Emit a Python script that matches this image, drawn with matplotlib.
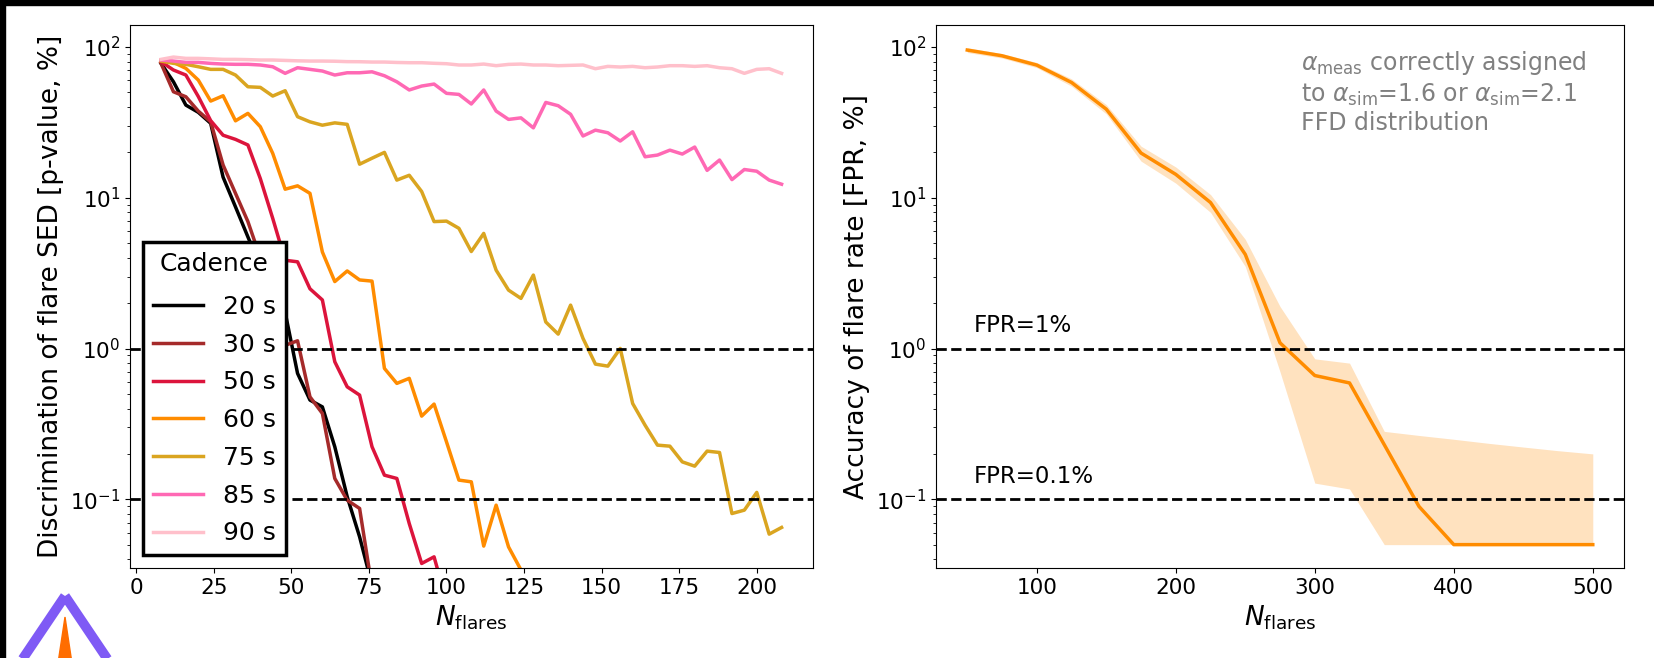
import numpy as np
import matplotlib
matplotlib.use('Agg')
import matplotlib.pyplot as plt
from matplotlib.patches import Rectangle, Polygon

nan = np.nan

# number of flares per simulated light curve (left panel)
nFlares = [8, 12, 16, 20, 24, 28, 32, 36, 40, 44, 48, 52, 56, 60, 64, 68, 72, 76, 80, 84,
           88, 92, 96, 100, 104, 108, 112, 116, 120, 124, 128, 132, 136, 140, 144, 148, 152,
           156, 160, 164, 168, 172, 176, 180, 184, 188, 192, 196, 200, 204, 208]

cadences = ['20 s', '30 s', '50 s', '60 s', '75 s', '85 s', '90 s']
cadenceColors = ['black', 'brown', 'crimson', 'darkorange', 'goldenrod', 'hotpink', 'pink']

# p-values in percent, one list per cadence (nan = below zero / not computed)
pval20 = [77.9, 58.8, 41.2, 36.9, 31.2, 13.7, 8.7, 5.5, 3.5, 2.4, 1.74, 0.684, 0.455, 0.410,
          0.223, 0.104, 0.0563, 0.027] + [nan] * 33
pval30 = [77.9, 50.5, 46.8, 37.6, 31.9, 16.5, 10.7, 6.95, 4.0, 2.0, 1.05, 1.125, 0.478, 0.371,
          0.1374, 0.0986, 0.0869, 0.026] + [nan] * 33
pval50 = [79.9, 70.4, 65.2, 47.0, 32.5, 26.0, 24.4, 22.4, 13.4, 7.3, 3.85, 3.76, 2.49, 2.10,
          0.817, 0.557, 0.491, 0.223, 0.1445, 0.1374, 0.069, 0.0375, 0.0415, 0.021] + [nan] * 27
pval60 = [82.0, 79.1, 72.2, 60.4, 43.8, 47.5, 32.4, 36.3, 29.6, 19.7, 11.4, 12.0, 10.7, 4.37,
          2.78, 3.27, 2.85, 2.80, 0.738, 0.587, 0.634, 0.356, 0.428, 0.2404, 0.134, 0.1305,
          0.0489, 0.0914, 0.0483, 0.034] + [nan] * 21
pval75 = [80.7, 77.9, 76.8, 74.0, 71.1, 71.1, 65.2, 54.5, 54.0, 47.3, 51.3, 34.5, 31.9, 30.3,
          31.4, 30.7, 16.7, 18.3, 20.0, 13.1, 14.1, 11.0, 6.95, 7.0, 6.27, 4.4, 5.80, 3.31, 2.44,
          2.15, 3.07, 1.50, 1.246, 1.94, 1.167, 0.788, 0.764, 1.001, 0.432, 0.310, 0.2286, 0.225,
          0.177, 0.1658, 0.2086, 0.2043, 0.0804, 0.0847, 0.111, 0.0587, 0.065]
pval85 = [82.0, 80.7, 79.1, 79.1, 77.9, 77.1, 76.8, 76.8, 76.0, 74.0, 66.9, 72.9, 71.1, 69.3,
          65.2, 67.5, 67.5, 68.5, 64.5, 58.8, 51.9, 55.1, 56.8, 49.3, 48.5, 41.9, 51.9, 37.6,
          33.1, 33.9, 29.1, 42.9, 40.8, 35.8, 25.7, 28.1, 27.0, 23.8, 27.4, 18.7, 19.2, 20.7,
          19.5, 21.7, 15.2, 17.8, 13.2, 15.4, 15.0, 13.1, 12.3]
pval90 = [82.8, 85.8, 84.1, 84.1, 83.5, 82.8, 82.8, 82.5, 82.0, 82.0, 81.5, 81.0, 80.7, 80.7,
          80.5, 80.0, 79.9, 79.5, 79.5, 79.0, 78.7, 78.7, 78.0, 77.5, 76.0, 76.0, 77.1, 75.2,
          76.7, 77.1, 76.0, 76.0, 75.2, 75.6, 76.0, 71.8, 74.4, 73.7, 74.4, 72.9, 73.7, 75.2,
          75.2, 74.4, 75.2, 72.9, 71.8, 66.9, 71.1, 71.8, 66.9]
pvals = [pval20, pval30, pval50, pval60, pval75, pval85, pval90]

# false positive rate vs number of flares (right panel)
nFlaresFpr = [50, 75, 100, 125, 150, 175, 200, 225, 250, 275, 300, 325, 350, 375, 400, 425,
              450, 475, 500]
fprMean = [95.5, 87.5, 75.9, 58.2, 38.7, 19.8, 14.3, 9.3, 4.21, 1.09, 0.662, 0.591, 0.23,
           0.0895, 0.05, 0.05, 0.05, 0.05, 0.05]
fprLow = [92.0, 84.5, 73.0, 55.0, 36.0, 17.5, 12.5, 8.0, 3.5, 0.7, 0.128, 0.117, 0.05, 0.05,
          0.05, 0.05, 0.05, 0.05, 0.05]
fprHigh = [99.0, 90.5, 79.0, 61.5, 41.5, 22.0, 16.0, 10.5, 5.3, 1.9, 0.854, 0.80, 0.282,
           0.265, 0.25, 0.235, 0.222, 0.21, 0.20]

thresholds = [1.0, 0.1]
thresholdLabels = ['FPR=1%', 'FPR=0.1%']

tickSize = 15.5
labelSize = 19

fig = plt.figure(figsize=(16.54, 6.58), dpi=100)
axL = fig.add_axes([0.0786, 0.1368, 0.4127, 0.8252])
axR = fig.add_axes([0.5659, 0.1368, 0.4160, 0.8252])

# left panel: p-value curves per cadence
for name, color, vals in zip(cadences, cadenceColors, pvals):
    axL.plot(nFlares, vals, color=color, lw=2.5, label=name)
for t in thresholds:
    axL.axhline(t, color='black', ls='--', lw=2)
axL.set_yscale('log')
axL.set_ylim(0.035, 140)
axL.set_xlim(-2, 218)
axL.set_xticks([0, 25, 50, 75, 100, 125, 150, 175, 200])
axL.set_xlabel(r'$N_{\rm flares}$', fontsize=labelSize)
axL.set_ylabel('Discrimination of flare SED [p-value, %]', fontsize=labelSize)
axL.tick_params(labelsize=tickSize)
leg = axL.legend(title='Cadence', loc='lower left', fontsize=18, title_fontsize=18,
                 fancybox=False, edgecolor='black', framealpha=1, labelspacing=0.55)
leg.get_frame().set_linewidth(2.5)
leg._legend_box.sep = 14  # a bit more room under the title

# right panel: FPR with spread
axR.fill_between(nFlaresFpr, fprLow, fprHigh, color='darkorange', alpha=0.25, lw=0)
axR.plot(nFlaresFpr, fprMean, color='darkorange', lw=2.5)
for t, lab in zip(thresholds, thresholdLabels):
    axR.axhline(t, color='black', ls='--', lw=2)
    axR.text(55, t * 1.19, lab, fontsize=16.5, ha='left', va='bottom')
axR.set_yscale('log')
axR.set_ylim(0.035, 140)
axR.set_xlim(27.5, 522.5)
axR.set_xlabel(r'$N_{\rm flares}$', fontsize=labelSize)
axR.set_ylabel('Accuracy of flare rate [FPR, %]', fontsize=labelSize)
axR.tick_params(labelsize=tickSize)
axR.text(0.53, 0.955,
         r'$\alpha_{\rm meas}$ correctly assigned' + '\n'
         + r'to $\alpha_{\rm sim}$=1.6 or $\alpha_{\rm sim}$=2.1' + '\n'
         + 'FFD distribution',
         transform=axR.transAxes, ha='left', va='top', color='gray', fontsize=17)

# dark frame strips and corner logo
W, H = 1654.0, 658.0
fig.add_artist(Rectangle((0, 1 - 5 / H), 1, 5 / H, transform=fig.transFigure,
                         color='black', zorder=10))
fig.add_artist(Rectangle((0, 0), 5 / W, 1, transform=fig.transFigure,
                         color='black', zorder=10))
fig.add_artist(Polygon([(65 / W, 1 - 617 / H), (57 / W, 1 - 670 / H), (73 / W, 1 - 670 / H)],
                       closed=True, transform=fig.transFigure, color='#ff6d00', zorder=11))
fig.add_artist(Polygon([(65 / W, 1 - 596 / H), (-5 / W, 1 - 700 / H), (135 / W, 1 - 700 / H)],
                       closed=True, fill=False, transform=fig.transFigure, edgecolor='#7f5af5',
                       lw=7, joinstyle='round', zorder=11))

fig.savefig('out.png', dpi=100)
